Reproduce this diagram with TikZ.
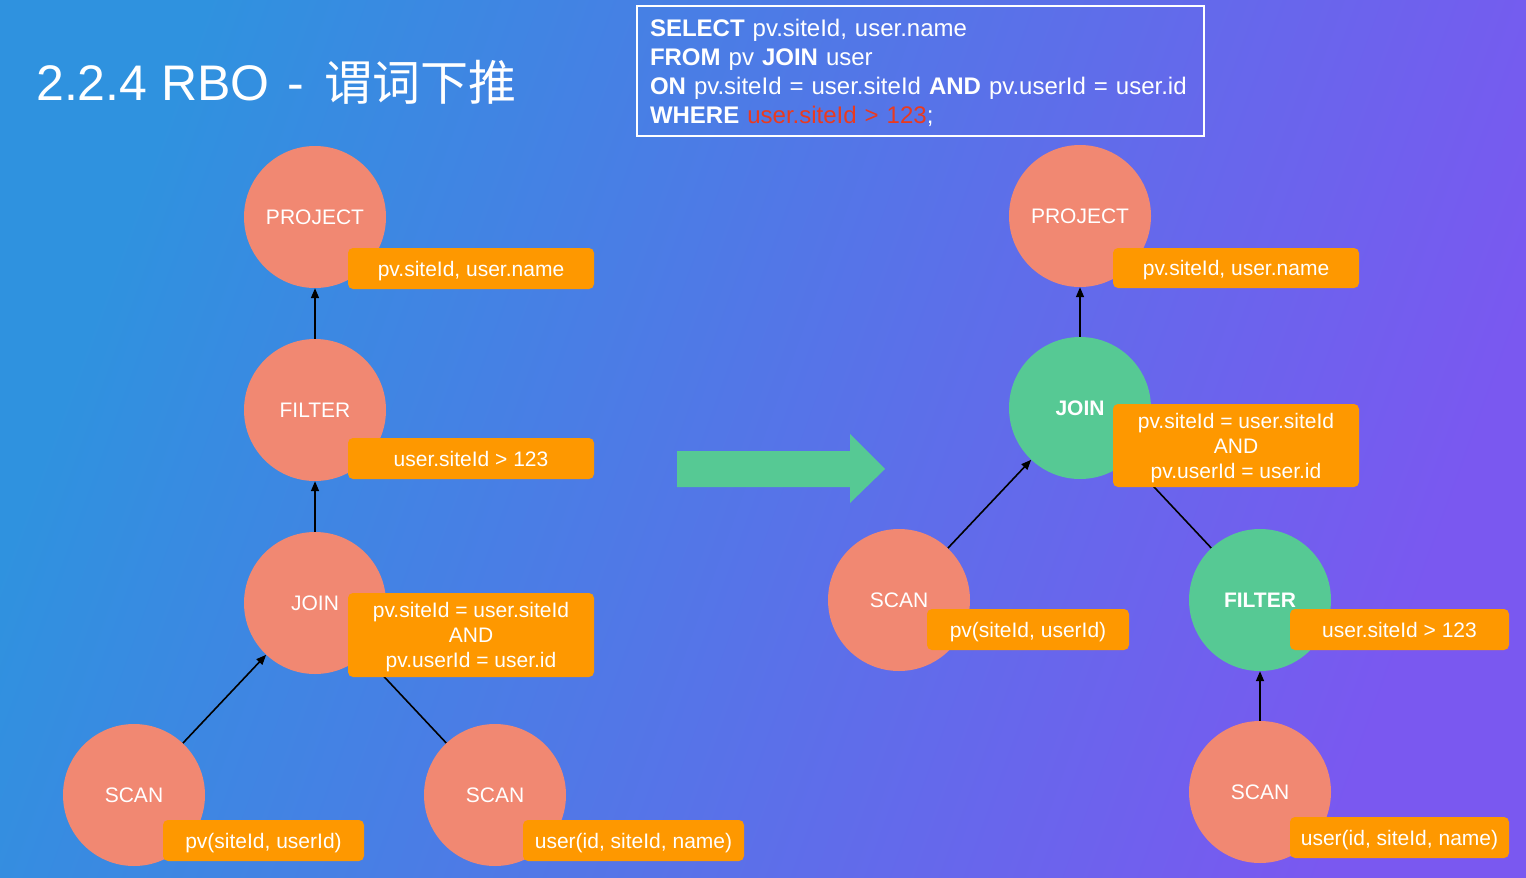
\documentclass[tikz,border=0pt]{standalone}
\usepackage{fontspec}
\setmainfont{Liberation Sans}
\newfontfamily\cjk{Noto Sans CJK SC}
\usetikzlibrary{arrows.meta}
\definecolor{bgA}{HTML}{2F92DF}
\definecolor{bgB}{HTML}{7A58F0}
\definecolor{salmon}{HTML}{F18872}
\definecolor{tagorange}{HTML}{FE9800}
\definecolor{opgreen}{HTML}{56C994}
\definecolor{sqlred}{HTML}{EA3A1F}
\pgfdeclarelayer{bg}
\pgfdeclarelayer{edges}
\pgfsetlayers{bg,edges,main}
\tikzset{
  opnode/.style={circle, fill=salmon, minimum size=142pt, inner sep=0pt, text=white, text depth=0pt, font=\fontsize{21}{25}\selectfont},
  greennode/.style={opnode, fill=opgreen, font=\fontsize{21}{25}\selectfont\bfseries},
  tag/.style={fill=tagorange, rounded corners=5pt, text=white, inner sep=0pt, text depth=0pt, align=center, font=\fontsize{21}{25}\selectfont},
  flow/.style={line width=1.6pt, black, -{Triangle[length=10pt,width=8pt]}},
  link/.style={line width=1.6pt, black},
}
\begin{document}
\begin{tikzpicture}[x=1pt,y=-1pt]
\useasboundingbox (0,0) rectangle (1526,878);
\begin{pgfonlayer}{bg}
\fill[left color=bgA, right color=bgB, shading angle=70] (0,0) rectangle (1526,878);
\end{pgfonlayer}

% title
\node[anchor=west, text=white, inner sep=0pt, font=\fontsize{50}{56}\selectfont] (title) at (36,82) {2.2.4 RBO\hspace{4pt} -\hspace{6pt} {\cjk\fontsize{48}{54}\selectfont 谓词下推}};

% SQL box
\node[draw=white, line width=2pt, text width=541pt, inner xsep=13pt, minimum height=130pt, align=left, text=white, font=\fontsize{24}{29}\selectfont] (sql) at (920.5,71)
{\rule{0pt}{21.5pt}\textbf{SELECT} pv.siteId, user.name\\
\textbf{FROM} pv \textbf{JOIN} user\\
\textbf{ON} pv.siteId = user.siteId \textbf{AND} pv.userId = user.id\\
\textbf{WHERE} \textcolor{sqlred}{user.siteId > 123};};

% big arrow
\fill[opgreen] (677,451) -- (850,451) -- (850,434) -- (885,469) -- (850,503) -- (850,487) -- (677,487) -- cycle;

% left tree
\node[opnode] (p1) at (315,217) {PROJECT};
\node[opnode] (f1) at (315,410) {FILTER};
\node[opnode] (j1) at (315,603) {JOIN};
\node[opnode] (s1a) at (134,795) {SCAN};
\node[opnode] (s1b) at (495,795) {SCAN};
\node[tag, minimum width=246pt, minimum height=41pt] (tp1) at (471,268.5) {pv.siteId, user.name};
\node[tag, minimum width=246pt, minimum height=41pt] (tf1) at (471,458.5) {user.siteId > 123};
\node[tag, minimum width=246pt, minimum height=84pt] (tj1) at (471,635) {pv.siteId = user.siteId\\AND\\pv.userId = user.id};
\node[tag, minimum width=201pt, minimum height=41pt] (ts1a) at (263.5,840.5) {pv(siteId, userId)};
\node[tag, minimum width=221pt, minimum height=41pt] (ts1b) at (633.5,840.5) {user(id, siteId, name)};

% right tree
\node[opnode] (p2) at (1080,216) {PROJECT};
\node[greennode] (j2) at (1080,408) {JOIN};
\node[opnode] (s2a) at (899,600) {SCAN};
\node[greennode] (f2) at (1260,600) {FILTER};
\node[opnode] (s2b) at (1260,792) {SCAN};
\node[tag, minimum width=246pt, minimum height=40pt] (tp2) at (1236,268) {pv.siteId, user.name};
\node[tag, minimum width=246pt, minimum height=83pt] (tj2) at (1236,445.5) {pv.siteId = user.siteId\\AND\\pv.userId = user.id};
\node[tag, minimum width=202pt, minimum height=41pt] (ts2a) at (1028,629.5) {pv(siteId, userId)};
\node[tag, minimum width=219pt, minimum height=41pt] (tf2) at (1399.5,629.5) {user.siteId > 123};
\node[tag, minimum width=219pt, minimum height=41pt] (ts2b) at (1399.5,837.5) {user(id, siteId, name)};

\begin{pgfonlayer}{edges}
\draw[flow] (f1) -- (p1);
\draw[flow] (j1) -- (f1);
\draw[flow] (s1a) -- (j1);
\draw[link] (j1) -- (s1b);
\draw[flow] (j2) -- (p2);
\draw[flow] (s2a) -- (j2);
\draw[link] (j2) -- (f2);
\draw[flow] (s2b) -- (f2);
\end{pgfonlayer}
\end{tikzpicture}
\end{document}
